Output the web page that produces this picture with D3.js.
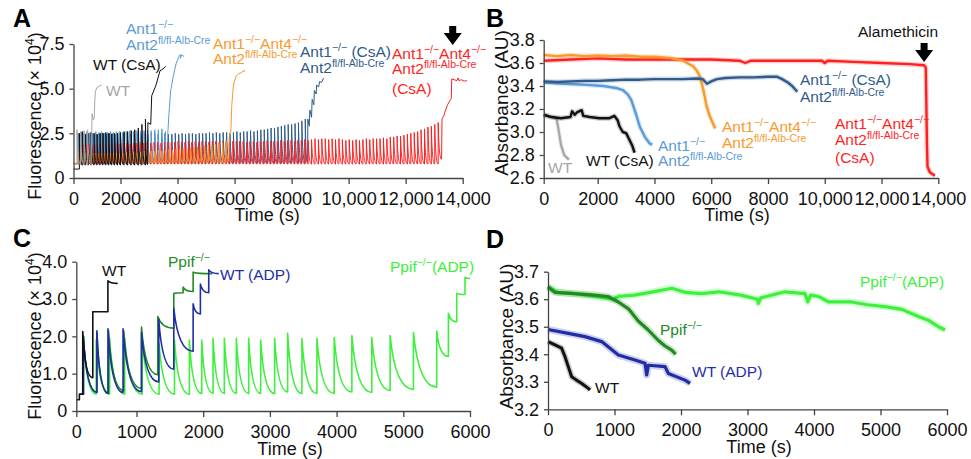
<!DOCTYPE html>
<html>
<head>
<meta charset="utf-8">
<script src="https://cdn.jsdelivr.net/npm/d3@7"></script>
<style>
  body { margin: 0; background: #fff; }
  svg { font-family: "Liberation Sans", Arial, sans-serif; }
</style>
</head>
<body>
<svg id="fig" width="971" height="459"></svg>
<script>

// ---------------- Panel A: Ca2+ retention (fluorescence x10^4) ----------------
// order: WT, WT (CsA), Ant1-/- Ant2, Ant1-/-Ant4-/- Ant2, Ant1-/- Ant2 (CsA), Ant1-/-Ant4-/- Ant2 (CsA)
var aFirst  = [150, 250, 200, 200, 200, 300];     // time of first Ca pulse (s)
var aEvery  = [150, 125, 125, 125, 120, 120];     // pulse interval (s)
var aBase   = [0.8, 0.5, 0.8, 0.8, 0.82, 0.8];
var aTrough = [0.75, 0.72, 0.8, 0.85, 0.82, 0.78];
var aPeaksWT = [2.7, 2.6, 2.65, 2.7];
var aPeaksWTCsA = [2.5, 2.6, 2.45, 2.5, 2.55, 2.5, 2.45, 2.5, 2.5, 2.55, 2.5, 2.45, 2.5, 2.5, 2.55, 2.6,
  2.6, 2.65, 2.7, 2.8, 3.0, 3.3];
var aPeaksA1 = [2.5, 2.55, 2.5, 2.6, 2.55, 2.5, 2.6, 2.55, 2.6, 2.5, 2.55, 2.6, 2.55, 2.6, 2.6, 2.55,
  2.6, 2.65, 2.6, 2.65, 2.6, 2.65, 2.7, 2.65, 2.7, 2.7, 2.75, 2.6];
var aPeaksA14 = [1.5, 1.4, 1.45, 1.4, 1.35, 1.4, 1.4, 1.35, 1.4, 1.35, 1.4, 1.35, 1.4, 1.4, 1.35, 1.4,
  1.45, 1.4, 1.45, 1.4, 1.45, 1.5, 1.45, 1.5, 1.5, 1.55, 1.5, 1.55, 1.6, 1.55, 1.6, 1.6, 1.65, 1.65,
  1.7, 1.7, 1.75, 1.75, 1.8, 1.85, 1.85, 1.9, 1.95, 2.0, 2.1];
var aPeaksA1CsA = [2.5, 2.45, 2.5, 2.5, 2.45, 2.5, 2.5, 2.45, 2.5, 2.5, 2.45, 2.5, 2.5, 2.45, 2.5, 2.45,
  2.5, 2.5, 2.45, 2.5, 2.5, 2.45, 2.5, 2.45, 2.5, 2.5, 2.45, 2.5, 2.5, 2.45, 2.45, 2.5, 2.45, 2.5, 2.45,
  2.5, 2.5, 2.45, 2.5, 2.5, 2.5, 2.55, 2.5, 2.55, 2.5, 2.55, 2.55, 2.5, 2.55, 2.6, 2.55, 2.6, 2.6, 2.65,
  2.6, 2.65, 2.7, 2.7, 2.75, 2.8, 2.8, 2.85, 2.9, 2.95, 3.0, 3.0, 3.05, 3.1, 3.2, 3.3];
var aPeaksA14CsA = [1.8, 1.9, 1.85, 1.9, 1.9, 1.85, 1.9, 1.9, 1.95, 1.9, 1.9, 1.95, 1.9, 1.95, 1.9, 1.95,
  1.95, 1.9, 1.95, 1.95, 2.0, 1.95, 2.0, 1.95, 2.0, 2.0, 1.95, 2.0, 2.0, 2.0, 2.0, 2.05, 2.0, 2.0, 2.05,
  2.0, 2.05, 2.0, 2.05, 2.05, 2.0, 2.05, 2.05, 2.0, 2.05, 2.05, 2.0, 2.05, 2.05, 2.05, 2.05, 2.0, 2.05,
  2.05, 2.0, 2.05, 2.05, 2.1, 2.05, 2.05, 2.05, 2.1, 2.05, 2.1, 2.1, 2.05, 2.1, 2.1, 2.15, 2.1, 2.15, 2.2,
  2.15, 2.2, 2.2, 2.15, 2.2, 2.15, 2.2, 2.15, 2.1, 2.15, 2.1, 2.15, 2.1, 2.15, 2.2, 2.15, 2.2, 2.2, 2.2,
  2.25, 2.2, 2.3, 2.3, 2.35, 2.35, 2.4, 2.45, 2.5, 2.55, 2.6, 2.7, 2.75, 2.85, 2.9, 3.0, 3.1];
// release after the last pulse: [time, value]
var aTailWT = [[750, 0.75], [790, 3.6], [830, 3.25], [880, 3.3], [905, 4.3], [935, 4.85], [990, 5.05],
  [1100, 5.15], [1200, 5.2]];
var aTailWTCsA = [[2950, 0.75], [2960, 3.1], [3060, 3.0], [3094, 4.6], [3245, 5.2], [3385, 6.0],
  [3490, 6.1], [3584, 6.25]];
var aTailA1 = [[3640, 0.85], [3660, 2.55], [3700, 3.6], [3760, 4.9], [3850, 5.7], [3950, 6.4],
  [4050, 6.8], [4090, 6.9], [4110, 6.7], [4130, 6.9], [4230, 6.8]];
var aTailA14 = [[5800, 0.95], [5810, 2.3], [5870, 2.6], [5900, 4.0], [5960, 5.2], [6050, 5.7],
  [6150, 5.85], [6250, 5.9], [6300, 6.0], [6330, 5.95], [6370, 6.05]];
var aTailA1CsA = [[8560, 0.9], [8570, 3.3], [8620, 2.9], [8640, 3.8], [8700, 3.4], [8720, 4.4],
  [8780, 4.1], [8800, 4.9], [8860, 4.7], [8880, 5.2], [8950, 5.1], [8980, 5.4], [9050, 5.35], [9120, 5.6]];
var aTailA14CsA = [[13260, 1.05], [13275, 3.3], [13340, 3.5], [13400, 3.8], [13470, 4.1], [13540, 4.3],
  [13600, 4.45], [13615, 5.55], [13700, 5.5], [13800, 5.45], [13840, 5.6], [13870, 5.45], [13950, 5.5],
  [14050, 5.42], [14150, 5.45]];

// ---------------- Panel B: swelling (absorbance, AU) ----------------
var bWT = [[0, 3.15], [300, 3.13], [470, 3.12], [543, 3.03], [639, 2.89], [757, 2.8], [933, 2.76]];
var bWTCsA = [[0, 3.15], [283, 3.13], [639, 3.12], [993, 3.13], [1052, 3.18], [1150, 3.15], [1229, 3.17],
  [1406, 3.19], [1465, 3.14], [1703, 3.13], [2057, 3.12], [2412, 3.12], [2590, 3.14], [2707, 3.1],
  [2766, 3.05], [2884, 3.0], [3002, 2.99], [3121, 2.93], [3220, 2.88], [3298, 2.82]];
var bA1 = [[0, 3.43], [800, 3.42], [1600, 3.41], [2200, 3.4], [2700, 3.38], [2884, 3.365], [3050, 3.33],
  [3180, 3.28], [3357, 3.15], [3477, 3.05], [3654, 2.96], [3832, 2.9], [3924, 2.89]];
var bA14 = [[0, 3.67], [500, 3.66], [1000, 3.67], [1500, 3.66], [2000, 3.665], [2500, 3.66], [3000, 3.665],
  [3500, 3.655], [4000, 3.655], [4541, 3.645], [5013, 3.62], [5368, 3.57], [5500, 3.53], [5605, 3.48],
  [5723, 3.365], [5841, 3.22], [5960, 3.13], [6050, 3.08], [6138, 3.03]];
var bA1CsA = [[0, 3.44], [500, 3.435], [1000, 3.44], [1500, 3.445], [2000, 3.445], [2500, 3.45],
  [3000, 3.455], [3500, 3.455], [4000, 3.46], [4500, 3.46], [5000, 3.46], [5500, 3.465], [5700, 3.46],
  [5850, 3.42], [6000, 3.44], [6200, 3.46], [6500, 3.47], [7000, 3.475], [7500, 3.475], [8000, 3.48],
  [8323, 3.48], [8500, 3.46], [8700, 3.43], [8850, 3.4], [9033, 3.35]];
var bA14CsA = [[0, 3.62], [1000, 3.63], [2000, 3.64], [3000, 3.63], [4000, 3.63], [5000, 3.63], [6000, 3.63],
  [7000, 3.62], [7200, 3.6], [7400, 3.62], [8000, 3.62], [9000, 3.62], [9900, 3.62], [10000, 3.6],
  [10100, 3.62], [11000, 3.61], [12000, 3.6], [13000, 3.59], [13500, 3.58], [13560, 3.56], [13600, 2.9],
  [13620, 2.7], [13700, 2.65], [13880, 2.62]];

// ---------------- Panel C: Ca2+ retention, Ppif ----------------
// each trace: start [t, v], jump times, value after each jump, value just before next jump, end time
var cLtGreenStart = [50, 0.45];
var cLtGreenT = [118, 330, 553, 804, 1085, 1339, 1569, 1793, 1978, 2148, 2317, 2497, 2682, 2862, 3071, 3266,
  3480, 3705, 3964, 4229, 4528, 4802, 5152, 5501, 5676, 5801, 5925];
var cLtGreenPk = [2.0, 1.9, 1.95, 1.95, 1.95, 1.8, 1.9, 1.9, 1.9, 1.95, 1.95, 1.95, 1.95, 1.9, 1.95, 2.08,
  1.94, 1.95, 1.97, 2.02, 1.97, 2.02, 2.1, 2.14, 2.62, 3.15, 3.58];
var cLtGreenTr = [0.45, 0.45, 0.45, 0.45, 0.45, 0.45, 0.45, 0.47, 0.47, 0.47, 0.47, 0.47, 0.47, 0.47, 0.51,
  0.47, 0.47, 0.47, 0.51, 0.5, 0.55, 0.58, 0.64, 1.46, 2.39, 3.12, 3.55];
var cLtGreenEnd = 6000;
var cDkGreenStart = [50, 0.45];
var cDkGreenT = [118, 342, 536, 787, 1075, 1320, 1559, 1699, 1849];
var cDkGreenPk = [2.0, 2.1, 2.15, 2.15, 2.25, 2.53, 3.15, 3.32, 3.72];
var cDkGreenTr = [0.5, 0.48, 0.55, 0.6, 0.97, 2.22, 3.17, 3.2, 3.68];
var cDkGreenEnd = 2133;
var cBlueStart = [50, 0.45];
var cBlueT = [118, 342, 526, 777, 1075, 1334, 1559, 1849, 1958, 2083];
var cBluePk = [2.0, 2.15, 2.2, 2.2, 2.1, 2.45, 2.75, 2.87, 3.4, 3.78];
var cBlueTr = [0.5, 0.47, 0.5, 0.52, 0.78, 1.12, 1.6, 2.6, 3.17, 3.68];
var cBlueEnd = 2233;
var cBlackStart = [0, 0.3];
var cBlackT = [51, 107, 274, 525];
var cBlackPk = [0.45, 2.13, 2.66, 3.49];
var cBlackTr = [0.45, 0.89, 2.66, 3.42];
var cBlackEnd = 687;

// ---------------- Panel D: swelling, Ppif ----------------
var dLtGreen = [[0, 3.645], [150, 3.625], [400, 3.62], [700, 3.61], [983, 3.6], [1058, 3.61], [1300, 3.615],
  [1559, 3.626], [1860, 3.64], [2060, 3.625], [2300, 3.62], [2562, 3.627], [2900, 3.615], [3150, 3.6],
  [3163, 3.585], [3200, 3.605], [3564, 3.627], [3865, 3.62], [3906, 3.59], [3950, 3.615], [4066, 3.61],
  [4216, 3.59], [4567, 3.59], [4800, 3.58], [5068, 3.573], [5320, 3.563], [5570, 3.537], [5720, 3.524],
  [5870, 3.5], [5971, 3.488]];
var dDkGreen = [[0, 3.645], [100, 3.625], [400, 3.62], [700, 3.615], [900, 3.61], [1058, 3.59], [1210, 3.565],
  [1360, 3.52], [1500, 3.49], [1660, 3.45], [1760, 3.43], [1860, 3.415], [1920, 3.4]];
var dBlue = [[0, 3.49], [305, 3.476], [556, 3.464], [807, 3.446], [1058, 3.397], [1308, 3.379], [1459, 3.367],
  [1484, 3.325], [1509, 3.36], [1760, 3.355], [1810, 3.33], [2060, 3.306], [2136, 3.294]];
var dBlack = [[0, 3.446], [105, 3.434], [205, 3.422], [256, 3.391], [305, 3.355], [356, 3.318], [431, 3.306],
  [507, 3.294], [607, 3.276], [632, 3.27]];

// ---------------- drawing ----------------
var FONT = '"Liberation Sans", Arial, sans-serif';
var cGray = '#a6a6a6', cBlack = '#111111', cLightBlue = '#5b9bd5', cOrange = '#f89a2c',
    cDarkBlue = '#2f5b8c', cRed = '#ff1f1f', cDkGreen = '#218a21', cBlue = '#1f2ea6', cLtGreen = '#3cf03c';

var svg = d3.select('#fig');

var xA = d3.scaleLinear().domain([0, 2000, 14000]).range([73.5, 120.5, 462.7]);
var yA = d3.scaleLinear().domain([0, 7.5]).range([178, 44]);
var xB = d3.scaleLinear().domain([0, 2000, 14000]).range([543.7, 597.7, 938.3]);
var yB = d3.scaleLinear().domain([2.6, 3.8]).range([178, 40]);
var xC = d3.scaleLinear().domain([0, 1000, 6000]).range([76.3, 136.5, 470]);
var yC = d3.scaleLinear().domain([0, 4]).range([411, 261.7]);
var xD = d3.scaleLinear().domain([0, 6000]).range([548, 947]);
var yD = d3.scaleLinear().domain([3.2, 3.7]).range([409.3, 271.7]);

function axes(x, y, xt, xl, yt, yl) {
  var gx = svg.append('g').attr('transform', 'translate(0,' + y.range()[0] + ')')
    .call(d3.axisBottom(x).tickValues(xt).tickFormat(function(d, i) { return xl[i]; })
      .tickSize(6).tickSizeOuter(0).tickPadding(8));
  var gy = svg.append('g').attr('transform', 'translate(' + x.range()[0] + ',0)')
    .call(d3.axisLeft(y).tickValues(yt).tickFormat(function(d, i) { return yl[i]; })
      .tickSize(4).tickSizeOuter(0).tickPadding(5));
  [gx, gy].forEach(function(g) {
    g.selectAll('path, line').attr('stroke', '#444').attr('stroke-width', 1.3);
    g.selectAll('text').attr('fill', '#111').style('font-size', '18px').style('font-family', FONT);
  });
}

// a jump to each peak, then a decay down to the next trough
function decay(p, x0, y0, x1, y1) {
  var dx = x1 - x0, dy = y1 - y0;
  p.bezierCurveTo(x0 + 0.15 * dx, y0 + 0.65 * dy, x0 + 0.45 * dx, y1, x1, y1);
}
function sawPath(x, y, start, times, peaks, troughs, endT, tail) {
  var p = d3.path();
  p.moveTo(x(start[0]), y(start[1]));
  p.lineTo(x(times[0]), y(start[1]));
  times.forEach(function(t, i) {
    var last = i === times.length - 1;
    var tNext = last ? endT : times[i + 1];
    p.lineTo(x(t), y(peaks[i]));
    decay(p, x(t), y(peaks[i]), x(tNext), y(troughs[i]));
  });
  (tail || []).forEach(function(d) { p.lineTo(x(d[0]), y(d[1])); });
  return p.toString();
}
function pulseTrace(k, peaks, tail, color) {
  var times = peaks.map(function(d, i) { return aFirst[k] + i * aEvery[k]; });
  var troughs = peaks.map(function(d, i) { return i === peaks.length - 1 ? tail[0][1] : aTrough[k]; });
  svg.append('path')
    .attr('d', sawPath(xA, yA, [0, aBase[k]], times, peaks, troughs, tail[0][0], tail.slice(1)))
    .attr('fill', 'none').attr('stroke', color).attr('stroke-width', 1).attr('stroke-linejoin', 'round');
}
function stepTrace(x, y, start, times, peaks, troughs, endT, color) {
  svg.append('path')
    .attr('d', sawPath(x, y, start, times, peaks, troughs, endT))
    .attr('fill', 'none').attr('stroke', color).attr('stroke-width', 1.6).attr('stroke-linejoin', 'round');
}
function noisyTrace(x, y, data, color, core, fringe) {
  var line = d3.line().x(function(d) { return x(d[0]); }).y(function(d) { return y(d[1]); });
  svg.append('path').attr('d', line(data)).attr('fill', 'none').attr('stroke', color)
    .attr('stroke-width', fringe).attr('stroke-opacity', 0.22).attr('stroke-linejoin', 'round');
  svg.append('path').attr('d', line(data)).attr('fill', 'none').attr('stroke', color)
    .attr('stroke-width', core).attr('stroke-linejoin', 'round');
}

// label with superscripts: strings are normal text, one-item arrays are superscripts
function label(x, y, color, parts) {
  var t = svg.append('text').attr('x', x).attr('y', y).attr('fill', color)
    .style('font-size', '15.5px').style('font-family', FONT);
  var up = false;
  parts.forEach(function(p) {
    if (Array.isArray(p)) {
      t.append('tspan').attr('dy', up ? 0 : -6).style('font-size', '10.5px').text(p[0]);
      up = true;
    } else {
      t.append('tspan').attr('dy', up ? 6 : 0).text(p);
      up = false;
    }
  });
}
function arrow(x, yTop) {
  svg.append('rect').attr('x', x - 3.5).attr('y', yTop).attr('width', 7).attr('height', 8).attr('fill', '#000');
  svg.append('path').attr('d', 'M' + (x - 9) + ',' + (yTop + 7) + 'L' + (x + 9) + ',' + (yTop + 7) +
    'L' + x + ',' + (yTop + 19) + 'Z').attr('fill', '#000');
}
function yTitle(x, y, parts, size) {
  var t = svg.append('text').attr('transform', 'translate(' + x + ',' + y + ') rotate(-90)')
    .attr('text-anchor', 'middle').attr('fill', '#111').style('font-size', size).style('font-family', FONT);
  parts.forEach(function(p) {
    if (Array.isArray(p)) t.append('tspan').attr('dy', -7).style('font-size', '12px').text(p[0]);
    else t.append('tspan').attr('dy', t.selectAll('tspan').size() ? 7 : 0).text(p);
  });
}
function xTitle(x, y) {
  svg.append('text').attr('x', x).attr('y', y).attr('text-anchor', 'middle').attr('fill', '#111')
    .style('font-size', '18px').style('font-family', FONT).text('Time (s)');
}
function letter(x, y, s) {
  svg.append('text').attr('x', x).attr('y', y).attr('fill', '#000').style('font-size', '25px')
    .style('font-weight', 'bold').style('font-family', FONT).text(s);
}

var SUP = ['\u2212/\u2212'];
var ANT2 = ['Ant2', ['fl/fl-Alb-Cre']];

// ----- Panel A
pulseTrace(4, aPeaksA1CsA, aTailA1CsA, cDarkBlue);
pulseTrace(2, aPeaksA1, aTailA1, cLightBlue);
pulseTrace(5, aPeaksA14CsA, aTailA14CsA, cRed);
pulseTrace(3, aPeaksA14, aTailA14, cOrange);
pulseTrace(1, aPeaksWTCsA, aTailWTCsA, cBlack);
pulseTrace(0, aPeaksWT, aTailWT, cGray);
axes(xA, yA, [0, 2000, 4000, 6000, 8000, 10000, 12000, 14000],
  ['0', '2000', '4000', '6000', '8000', '10,000', '12,000', '14,000'],
  [0, 2.5, 5, 7.5], ['0', '2.5', '5.0', '7.5']);
arrow(xA(13650), 26);
label(126, 34, cLightBlue, ['Ant1', SUP]);
label(126, 50, cLightBlue, ANT2);
label(93, 70, cBlack, ['WT (CsA)']);
label(106, 96, cGray, ['WT']);
label(213, 49, cOrange, ['Ant1', SUP, 'Ant4', SUP]);
label(213, 64, cOrange, ANT2);
label(300, 57, cDarkBlue, ['Ant1', SUP, ' (CsA)']);
label(300, 73, cDarkBlue, ANT2);
label(392, 59, cRed, ['Ant1', SUP, 'Ant4', SUP]);
label(392, 74, cRed, ANT2);
label(392, 94, cRed, ['(CsA)']);
yTitle(34, 116, ['Fluorescence (\u00d7 10', ['4'], ')'], '18px');
xTitle(267, 221);
letter(13, 27, 'A');

// ----- Panel B
noisyTrace(xB, yB, bA14CsA, cRed, 2.4, 5);
noisyTrace(xB, yB, bA14, cOrange, 2.4, 5);
noisyTrace(xB, yB, bA1, cLightBlue, 2.4, 5);
noisyTrace(xB, yB, bA1CsA, cDarkBlue, 2.4, 5);
noisyTrace(xB, yB, bWT, cGray, 2.2, 4.5);
noisyTrace(xB, yB, bWTCsA, cBlack, 2.4, 5);
axes(xB, yB, [0, 2000, 4000, 6000, 8000, 10000, 12000, 14000],
  ['0', '2000', '4000', '6000', '8000', '10,000', '12,000', '14,000'],
  [2.6, 2.8, 3.0, 3.2, 3.4, 3.6, 3.8], ['2.6', '2.8', '3.0', '3.2', '3.4', '3.6', '3.8']);
arrow(xB(13500), 43);
svg.append('text').attr('x', 858).attr('y', 36.7).attr('fill', '#111').style('font-size', '15.5px')
  .style('font-family', FONT).text('Alamethicin');
label(800, 85, cDarkBlue, ['Ant1', SUP, ' (CsA)']);
label(800, 101.7, cDarkBlue, ANT2);
label(722, 131.7, cOrange, ['Ant1', SUP, 'Ant4', SUP]);
label(722, 147.5, cOrange, ANT2);
label(835, 129, cRed, ['Ant1', SUP, 'Ant4', SUP]);
label(835, 144.5, cRed, ANT2);
label(835, 163, cRed, ['(CsA)']);
label(658, 150.7, cLightBlue, ['Ant1', SUP]);
label(658, 166, cLightBlue, ANT2);
label(586, 166, cBlack, ['WT (CsA)']);
label(548, 172.7, cGray, ['WT']);
yTitle(501, 103, ['Absorbance (AU)'], '19px');
xTitle(737, 221);
letter(486, 27, 'B');

// ----- Panel C
stepTrace(xC, yC, cLtGreenStart, cLtGreenT, cLtGreenPk, cLtGreenTr, cLtGreenEnd, cLtGreen);
stepTrace(xC, yC, cDkGreenStart, cDkGreenT, cDkGreenPk, cDkGreenTr, cDkGreenEnd, cDkGreen);
stepTrace(xC, yC, cBlueStart, cBlueT, cBluePk, cBlueTr, cBlueEnd, cBlue);
stepTrace(xC, yC, cBlackStart, cBlackT, cBlackPk, cBlackTr, cBlackEnd, cBlack);
axes(xC, yC, [0, 1000, 2000, 3000, 4000, 5000, 6000],
  ['0', '1000', '2000', '3000', '4000', '5000', '6000'],
  [0, 1, 2, 3, 4], ['0', '1.0', '2.0', '3.0', '4.0']);
label(102, 276, cBlack, ['WT']);
label(168, 267.3, cDkGreen, ['Ppif', SUP]);
label(220, 280, cBlue, ['WT (ADP)']);
label(390, 271.7, cLtGreen, ['Ppif', SUP, '(ADP)']);
yTitle(34, 336, ['Fluorescence (\u00d7 10', ['4'], ')'], '18px');
xTitle(290, 455);
letter(13, 247, 'C');

// ----- Panel D
noisyTrace(xD, yD, dLtGreen, cLtGreen, 3.2, 7);
noisyTrace(xD, yD, dDkGreen, cDkGreen, 3.2, 7);
noisyTrace(xD, yD, dBlue, cBlue, 3.2, 7);
noisyTrace(xD, yD, dBlack, cBlack, 3, 6);
axes(xD, yD, [0, 1000, 2000, 3000, 4000, 5000, 6000],
  ['0', '1000', '2000', '3000', '4000', '5000', '6000'],
  [3.2, 3.3, 3.4, 3.5, 3.6, 3.7], ['3.2', '3.3', '3.4', '3.5', '3.6', '3.7']);
label(860, 286.7, cLtGreen, ['Ppif', SUP, '(ADP)']);
label(660, 335, cDkGreen, ['Ppif', SUP]);
label(692, 376.7, cBlue, ['WT (ADP)']);
label(595, 393.3, cBlack, ['WT']);
yTitle(506, 336.5, ['Absorbance (AU)'], '19px');
xTitle(759, 453.3);
letter(486, 248, 'D');

</script>
</body>
</html>
